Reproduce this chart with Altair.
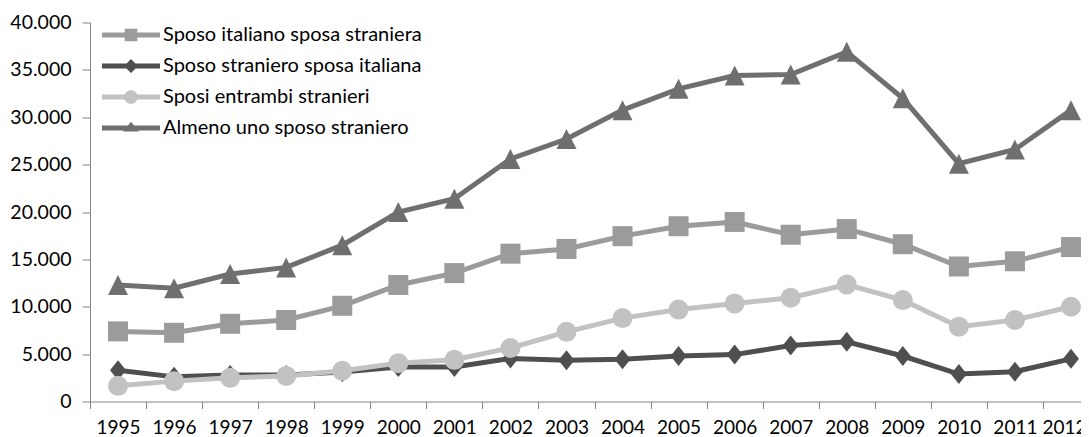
import altair as alt
import pandas as pd

# ---- data ----
years = [str(y) for y in range(1995, 2013)]
series_names = [
    "Sposo italiano sposa straniera",
    "Sposo straniero sposa italiana",
    "Sposi entrambi stranieri",
    "Almeno uno sposo straniero",
]
sposo_it_sposa_str = [7400, 7250, 8200, 8600, 10100, 12300, 13550, 15600, 16100, 17450,
                      18500, 18950, 17600, 18200, 16600, 14250, 14800, 16300]
sposo_str_sposa_it = [3300, 2600, 2800, 2800, 3100, 3650, 3650, 4550, 4350, 4450,
                      4800, 4950, 5900, 6300, 4800, 2900, 3150, 4500]
entrambi_stranieri = [1650, 2150, 2500, 2700, 3250, 4050, 4400, 5650, 7350, 8800,
                      9700, 10350, 10950, 12350, 10700, 7900, 8600, 10000]
almeno_uno = [12300, 11950, 13450, 14150, 16500, 20000, 21400, 25600, 27700, 30750,
              33000, 34400, 34500, 36900, 32000, 25100, 26600, 30750]
y_ticks = [0, 5000, 10000, 15000, 20000, 25000, 30000, 35000, 40000]

colors = ["#9b9b9b", "#4f4f4f", "#c2c2c2", "#6f6f6f"]
plot_shapes = ["square", "M-0.8,0L0,-1L0.8,0L0,1Z", "circle", "M0,-1L1,1L-1,1Z"]

# legend symbols: line segment + small marker
bar = "M-2.9,-0.25L2.9,-0.25L2.9,0.25L-2.9,0.25Z"
legend_shapes = [
    bar + "M-0.63,-0.63L0.63,-0.63L0.63,0.63L-0.63,0.63Z",
    bar + "M0,-0.7L0.7,0L0,0.7L-0.7,0Z",
    bar + "M-0.68,0A0.68,0.68 0 1,1 0.68,0A0.68,0.68 0 1,1 -0.68,0Z",
    bar + "M0,-0.62L0.8,0.36L-0.8,0.36Z",
]

all_values = [sposo_it_sposa_str, sposo_str_sposa_it, entrambi_stranieri, almeno_uno]
df = pd.DataFrame({
    "anno": years * 4,
    "serie": [s for s in series_names for _ in years],
    "valore": [v for vals in all_values for v in vals],
})

FONT = "Lato"
AXIS_COLOR = "#868686"

# the reference is cropped on the right: the x scale runs past the visible plot width
x_enc = alt.X(
    "anno:O",
    bandPosition=0.5,
    scale=alt.Scale(type="band", paddingInner=0, paddingOuter=0, range=[0, 1009]),
    axis=alt.Axis(
        title=None, labelAngle=0, tickBand="extent", grid=False,
        domainColor=AXIS_COLOR, tickColor=AXIS_COLOR, tickSize=7,
        labelPadding=10, labelFont=FONT, labelFontSize=19, labelColor="#000000",
        labelOffset={"expr": "datum.value == '2012' ? -7 : 0"},
    ),
)
y_enc = alt.Y(
    "valore:Q",
    scale=alt.Scale(domain=[0, 40000], nice=False, zero=True),
    axis=alt.Axis(
        title=None, values=y_ticks, grid=False,
        domainColor=AXIS_COLOR, tickColor=AXIS_COLOR, tickSize=8,
        labelPadding=11, labelFont=FONT, labelFontSize=19.5, labelColor="#000000",
        labelExpr="replace(format(datum.value, ','), ',', '.')",
    ),
)

layers = []
for name, col, shp in zip(series_names, colors, plot_shapes):
    base = alt.Chart(df).transform_filter(alt.datum.serie == name)
    layers.append(base.mark_line(color=col, strokeWidth=5).encode(x=x_enc, y=y_enc))
    layers.append(base.mark_point(shape=shp, size=400, filled=True, color=col, opacity=1)
                  .encode(x=x_enc, y=y_enc))

legend = alt.Legend(
    title=None, orient="none", legendX=31, legendY=2.5, padding=0,
    symbolSize=400, symbolStrokeWidth=0, symbolOpacity=1,
    labelFont=FONT, labelFontSize=20, labelColor="#000000",
    labelOffset=22, rowPadding=11, labelLimit=600,
)
legend_layer = alt.Chart(df).mark_point(filled=True, opacity=0).encode(
    x=x_enc, y=y_enc,
    color=alt.Color("serie:N", scale=alt.Scale(domain=series_names, range=colors), legend=legend),
    shape=alt.Shape("serie:N", scale=alt.Scale(domain=series_names, range=legend_shapes), legend=legend),
)

chart = alt.layer(*layers, legend_layer).properties(
    width=991, height=379,
    autosize=alt.AutoSizeParams(type="none"),
    padding={"left": 82, "top": 14.5, "right": 0, "bottom": 45},
).configure_view(stroke=None)

chart.save("out.html", embed_options={"renderer": "svg", "actions": False})
